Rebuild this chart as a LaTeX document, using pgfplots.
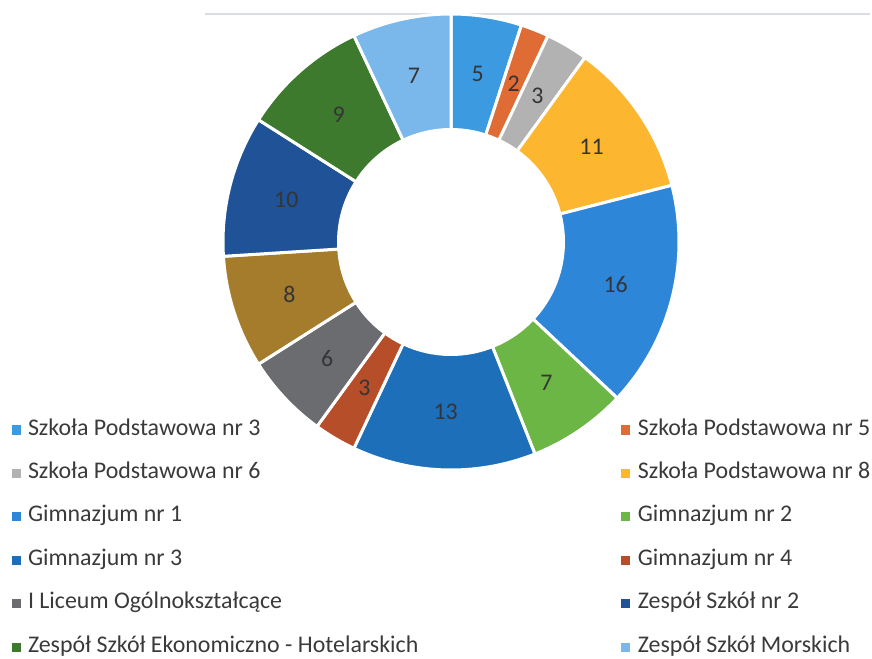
\documentclass[border=0pt]{standalone}
\usepackage{pgfplots}
\pgfplotsset{compat=1.18}
\usepackage{pgfplotstable}
\usepackage{fontspec}
\setmainfont{Carlito}

\definecolor{c0}{HTML}{3C9BE0}
\definecolor{c1}{HTML}{E06C35}
\definecolor{c2}{HTML}{B2B2B2}
\definecolor{c3}{HTML}{FDB62F}
\definecolor{c4}{HTML}{2D86D8}
\definecolor{c5}{HTML}{6CB645}
\definecolor{c6}{HTML}{1D6FBA}
\definecolor{c7}{HTML}{B64E2A}
\definecolor{c8}{HTML}{6A6C70}
\definecolor{c9}{HTML}{A57C2C}
\definecolor{c10}{HTML}{1F5296}
\definecolor{c11}{HTML}{3E7A2E}
\definecolor{c12}{HTML}{7AB8EC}
\definecolor{txt}{HTML}{3A3A3A}
\definecolor{lab}{HTML}{353535}

% value per slice (clockwise from the top); legend = 1 if the slice has a legend entry
\pgfplotstableread[col sep=comma]{
name,value,legend
Szkoła Podstawowa nr 3,5,1
Szkoła Podstawowa nr 5,2,1
Szkoła Podstawowa nr 6,3,1
Szkoła Podstawowa nr 8,11,1
Gimnazjum nr 1,16,1
Gimnazjum nr 2,7,1
Gimnazjum nr 3,13,1
Gimnazjum nr 4,3,1
I Liceum Ogólnokształcące,6,1
(bez nazwy),8,0
Zespół Szkół nr 2,10,1
Zespół Szkół Ekonomiczno - Hotelarskich,9,1
Zespół Szkół Morskich,7,1
}\schools

% center and radii (in picture pixels, y measured upward)
\def\cx{451}
\def\cy{417}
\def\Ro{228}
\def\Ri{114}
\def\Rl{170}

\def\cum{0}
\pgfplotsforeachungrouped \i in {0,...,12}{%
  \pgfplotstablegetelem{\i}{value}\of\schools
  \let\v\pgfplotsretval
  \expandafter\xdef\csname v\i\endcsname{\v}%
  \pgfplotstablegetelem{\i}{name}\of\schools
  \expandafter\xdef\csname n\i\endcsname{\pgfplotsretval}%
  \pgfplotstablegetelem{\i}{legend}\of\schools
  \ifnum\pgfplotsretval=1
    \expandafter\xdef\csname f\i\endcsname{}%
  \else
    \expandafter\xdef\csname f\i\endcsname{forget plot}%
  \fi
  \pgfmathsetmacro\s{90-3.6*\cum}%
  \pgfmathsetmacro\e{90-3.6*(\cum+\v)}%
  \pgfmathsetmacro\m{(\s+\e)/2}%
  \pgfmathsetmacro\lx{\cx+\Rl*cos(\m)}%
  \pgfmathsetmacro\ly{\cy+\Rl*sin(\m)}%
  \expandafter\xdef\csname s\i\endcsname{\s}%
  \expandafter\xdef\csname e\i\endcsname{\e}%
  \expandafter\xdef\csname lx\i\endcsname{\lx}%
  \expandafter\xdef\csname ly\i\endcsname{\ly}%
  \pgfmathsetmacro\cum{\cum+\v}%
  \xdef\cum{\cum}%
}

\begin{document}
\begin{tikzpicture}
\begin{axis}[
  scale only axis, width=872bp, height=659bp,
  xmin=0, xmax=872, ymin=0, ymax=659,
  hide axis,
  legend columns=2,
  legend cell align=left,
  legend image code/.code={\path[#1, draw=none] (0bp,-4.5bp) rectangle (9bp,4.5bp);},
  legend style={
    at={(axis cs:11.5,239)}, anchor=north west,
    draw=none, fill=none, inner sep=0pt, outer sep=0pt,
    font=\fontsize{24}{24}\selectfont, text=txt,
    nodes={inner sep=0pt, text height=15bp, text depth=5bp},
    row sep=23.5bp,
    /tikz/every odd column/.append style={column sep=7.5bp},
    /tikz/every even column/.append style={column sep=203bp},
  },
]
\addplot[draw={rgb,255:red,216;green,222;blue,230}, line width=1.5bp, forget plot]
  coordinates {(205,645) (870,645)};
\pgfplotsinvokeforeach{0,...,12}{%
  \edef\doplot{\noexpand\addplot[fill=c#1, draw=white, line width=3bp,
      domain=\csname e#1\endcsname:\csname s#1\endcsname, samples=60, \csname f#1\endcsname]
    ({\cx+\Ro*cos(x)},{\cy+\Ro*sin(x)}) -- (axis cs:\cx,\cy) -- cycle;}%
  \doplot
  \ifnum#1=9 \else
    \edef\doleg{\noexpand\addlegendentry{\csname n#1\endcsname}}\doleg
  \fi
}
\addplot[fill=white, draw=none, domain=0:360, samples=120, forget plot]
  ({\cx+\Ri*cos(x)},{\cy+\Ri*sin(x)}) -- cycle;
\pgfplotsinvokeforeach{0,...,12}{%
  \node[font=\fontsize{24}{24}\selectfont, text=lab] at (axis cs:\csname lx#1\endcsname,\csname ly#1\endcsname) {\csname v#1\endcsname};
}
\end{axis}
\pgfresetboundingbox
\path[use as bounding box] (current axis.south west) rectangle (current axis.north east);
\end{tikzpicture}
\end{document}
